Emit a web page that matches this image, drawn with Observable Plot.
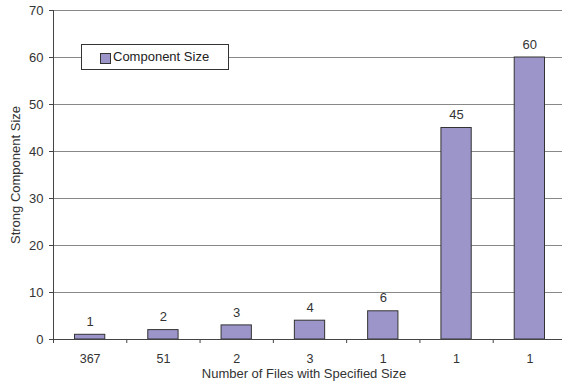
<!DOCTYPE html>
<html><head><meta charset="utf-8">
<script src="https://cdn.jsdelivr.net/npm/d3@7"></script>
<script src="https://cdn.jsdelivr.net/npm/@observablehq/plot@0.6"></script>
<style>
body{margin:0;overflow:hidden;background:#fff;}
#wrap{position:relative;width:562px;height:387px;}
#legend{position:absolute;left:81px;top:44px;width:146px;height:24px;border:1px solid #333;background:#fff;font:13px "Liberation Sans",Arial,sans-serif;color:#222;box-sizing:content-box;}
#legend .sw{position:absolute;left:18px;top:8px;width:9px;height:9px;background:#9c95c9;border:1px solid #333;}
#legend .tx{position:absolute;left:31px;top:4px;}
</style></head>
<body><div id="wrap"></div>
<script>
const categories = ["367","51","2","3","1","1","1"];
const values = [1,2,3,4,6,45,60];
const yTicks = [0,10,20,30,40,50,60,70];
const seriesName = "Component Size";
const xTitle = "Number of Files with Specified Size";
const yTitle = "Strong Component Size";

const data = categories.map((c,i)=>({i, c, v: values[i]}));
const font = '"Liberation Sans", Arial, sans-serif';

const chart = Plot.plot({
  width: 562, height: 387,
  marginLeft: 53, marginRight: 0, marginTop: 10, marginBottom: 48,
  style: {fontFamily: font, fontSize: "13px", color: "#333", background: "#fff", overflow: "visible"},
  x: {type: "linear", domain: [0, 7], range: [53, 566]},
  y: {domain: [0, 70], range: [339, 10]},
  marks: [
    Plot.ruleY(yTicks.filter(d=>d>0), {stroke: "#888", strokeWidth: 1, strokeOpacity: 1}),
    Plot.rectY(data, {x1: d=>d.i, x2: d=>d.i+1, y: "v", insetLeft: 21.5, insetRight: 21.5, fill: "#9c95c9", stroke: "#333", strokeWidth: 1}),
    Plot.text(data, {x: d=>d.i+0.5, y: "v", text: d=>String(d.v), dy: -13, fill: "#333", fontSize: 13}),
    Plot.ruleY([0], {stroke: "#444"}),
    Plot.ruleX([0], {stroke: "#444"}),
    Plot.axisY({ticks: yTicks, tickSize: 4, tickPadding: 6, fontSize: 13, stroke: "#444", fill: "#333", label: null}),
    Plot.axisX({ticks: d3.range(0, 8), tickSize: 4, tickFormat: () => "", stroke: "#444", label: null}),
    Plot.axisX({ticks: d3.range(7).map(i=>i+0.5), tickSize: 0, tickPadding: 15, tickFormat: t => categories[Math.floor(t)], fontSize: 12.5, fill: "#333", label: null}),
    Plot.text([xTitle], {frameAnchor: "bottom", dx: -4, dy: 38, fill: "#333", fontSize: 13}),
    Plot.text([yTitle], {frameAnchor: "left", textAnchor: "middle", rotate: -90, dx: -38, dy: 0, fill: "#333", fontSize: 13})
  ]
});
const wrap = document.getElementById("wrap");
wrap.appendChild(chart);
const lg = document.createElement("div");
lg.id = "legend";
lg.innerHTML = '<span class="sw"></span><span class="tx"></span>';
lg.querySelector(".tx").textContent = seriesName;
wrap.appendChild(lg);
</script></body></html>
